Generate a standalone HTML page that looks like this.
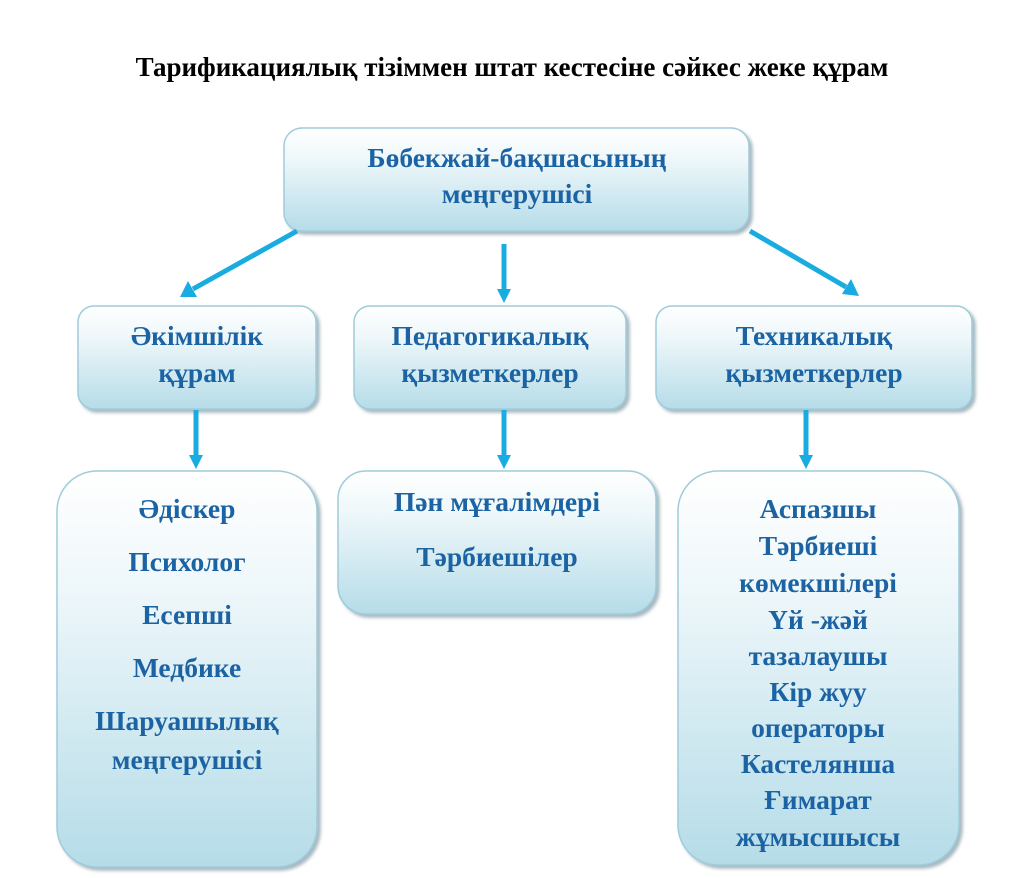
<!DOCTYPE html>
<html><head><meta charset="utf-8"><style>
html,body{margin:0;padding:0;background:#fff;width:1024px;height:878px;overflow:hidden}
svg{display:block}
text{font-family:"Liberation Serif","DejaVu Serif",serif;font-weight:bold}
.t{fill:#1b63a3;font-size:27.5px}
</style></head><body>
<svg width="1024" height="878" viewBox="0 0 1024 878" xmlns="http://www.w3.org/2000/svg">
<defs>
<linearGradient id="g" x1="0" y1="0" x2="0" y2="1">
<stop offset="0" stop-color="#ffffff"/><stop offset="0.3" stop-color="#eef7fa"/><stop offset="1" stop-color="#b5dce8"/>
</linearGradient>
<filter id="s" x="-10%" y="-10%" width="125%" height="125%">
<feDropShadow dx="3" dy="3" stdDeviation="1.5" flood-color="#6d8a96" flood-opacity="0.6"/>
</filter>
</defs>
<text x="512" y="76" text-anchor="middle" font-size="27" fill="#000">Тарификациялық тізіммен штат кестесіне сәйкес жеке құрам</text>
<g fill="url(#g)" stroke="#9fcbdb" stroke-width="1.5" filter="url(#s)">
<rect x="284" y="128" width="465" height="103" rx="18"/>
<rect x="78" y="306" width="238" height="103" rx="16"/>
<rect x="354" y="306" width="272" height="103" rx="16"/>
<rect x="656" y="306" width="316" height="103" rx="16"/>
<rect x="57" y="471" width="260" height="396" rx="40"/>
<rect x="338" y="471" width="318" height="143" rx="28"/>
<rect x="678" y="471" width="281" height="394" rx="40"/>
</g>
<g stroke="#19ace0" stroke-width="5" fill="#19ace0">
<line x1="297" y1="231" x2="193" y2="289"/>
<polygon points="180,297 188,281 197,297" stroke="none"/>
<line x1="504" y1="244" x2="504" y2="290"/>
<polygon points="497,289 511,289 504,303" stroke="none"/>
<line x1="750" y1="231" x2="846" y2="287"/>
<polygon points="859,296 842,294 851,279" stroke="none"/>
<line x1="196" y1="410" x2="196" y2="456"/>
<polygon points="189,455 203,455 196,469" stroke="none"/>
<line x1="504" y1="410" x2="504" y2="456"/>
<polygon points="497,455 511,455 504,469" stroke="none"/>
<line x1="806" y1="410" x2="806" y2="456"/>
<polygon points="799,455 813,455 806,469" stroke="none"/>
</g>
<g text-anchor="middle">
<text class="t" x="517" y="167">Бөбекжай-бақшасының</text>
<text class="t" x="517" y="203">меңгерушісі</text>
<text class="t" x="197" y="345">Әкімшілік</text>
<text class="t" x="197" y="382">құрам</text>
<text class="t" x="490" y="345">Педагогикалық</text>
<text class="t" x="490" y="382">қызметкерлер</text>
<text class="t" x="814" y="345">Техникалық</text>
<text class="t" x="814" y="382">қызметкерлер</text>
<text class="t" x="187" y="518">Әдіскер</text>
<text class="t" x="187" y="571">Психолог</text>
<text class="t" x="187" y="624">Есепші</text>
<text class="t" x="187" y="677">Медбике</text>
<text class="t" x="187" y="730">Шаруашылық</text>
<text class="t" x="187" y="769">меңгерушісі</text>
<text class="t" x="497" y="511">Пән мұғалімдері</text>
<text class="t" x="497" y="566">Тәрбиешілер</text>
<text class="t" x="818" y="518">Аспазшы</text>
<text class="t" x="818" y="555">Тәрбиеші</text>
<text class="t" x="818" y="592">көмекшілері</text>
<text class="t" x="818" y="629">Үй -жәй</text>
<text class="t" x="818" y="665">тазалаушы</text>
<text class="t" x="818" y="701">Кір жуу</text>
<text class="t" x="818" y="737">операторы</text>
<text class="t" x="818" y="773">Кастелянша</text>
<text class="t" x="818" y="809">Ғимарат</text>
<text class="t" x="818" y="846">жұмысшысы</text>
</g>
</svg>
</body></html>
